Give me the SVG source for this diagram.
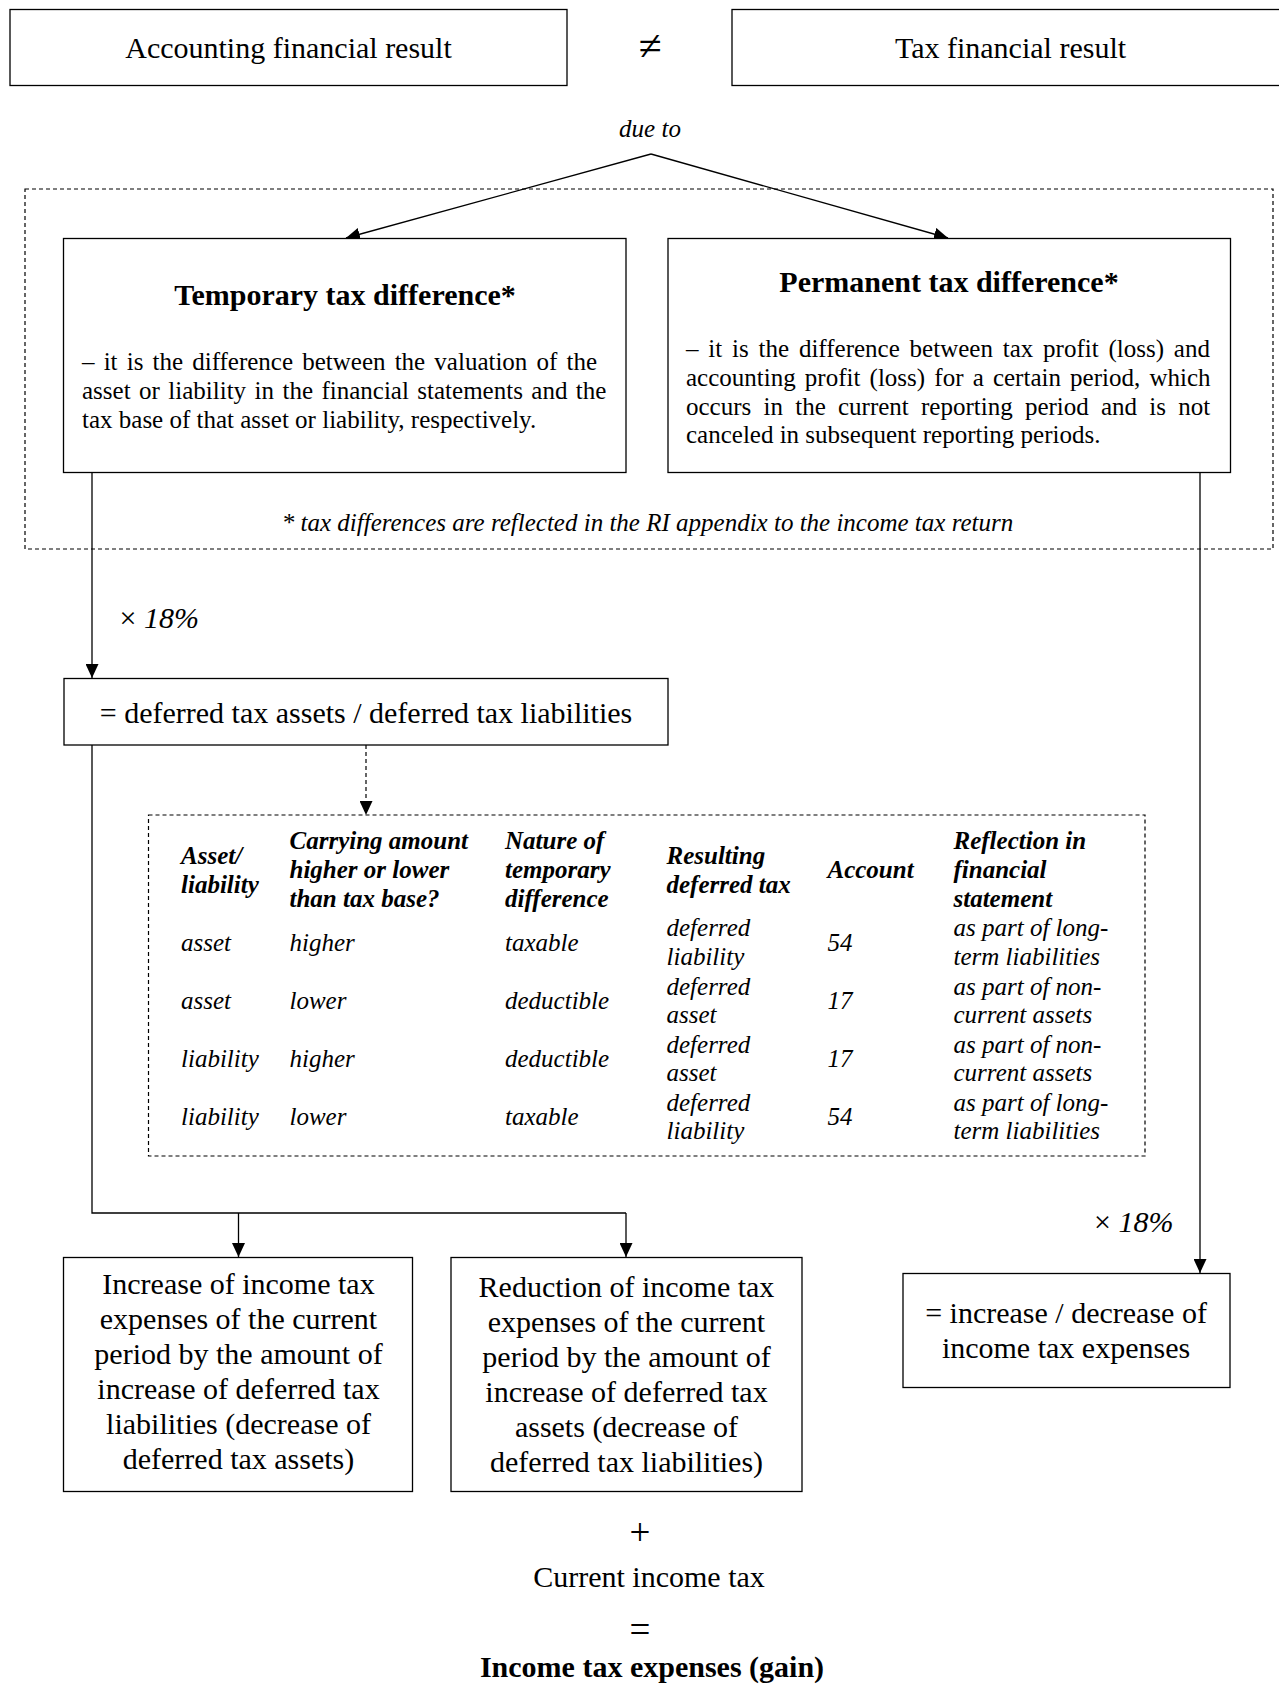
<svg xmlns="http://www.w3.org/2000/svg" width="1279" height="1684" viewBox="0 0 1279 1684">
<defs>
<marker id="ah" markerUnits="userSpaceOnUse" markerWidth="14" markerHeight="13" refX="14" refY="6.5" orient="auto">
<path d="M0,0 L14,6.5 L0,13 z" fill="#000"/>
</marker>
<style>
.box{fill:#fff;stroke:#000;stroke-width:1.3}
.dbox{fill:none;stroke:#000;stroke-width:1.2;stroke-dasharray:4,3}
.ln{fill:none;stroke:#000;stroke-width:1.3}
.dl{fill:none;stroke:#000;stroke-width:1.2;stroke-dasharray:4,3}
text{font-family:"Liberation Serif","Times New Roman",serif;fill:#000}
.t30{font-size:30px}
.b30{font-size:30px;font-weight:bold}
.t25{font-size:25px}
.i25{font-size:25px;font-style:italic}
.h25{font-size:25px;font-style:italic;font-weight:bold}
.sym{font-size:37px}
.neq{font-size:42px}
.c{text-anchor:middle}
</style>
</defs>
<rect width="1279" height="1684" fill="#fff"/>

<g id="outer-dashed">
<rect class="dbox" x="25" y="189" width="1248" height="360"/>
</g>

<g id="connectors">
<line class="ln" x1="651" y1="154" x2="346" y2="238" marker-end="url(#ah)"/>
<line class="ln" x1="651" y1="154" x2="948" y2="238" marker-end="url(#ah)"/>
<line class="ln" x1="92" y1="472" x2="92" y2="678" marker-end="url(#ah)"/>
<line class="dl" x1="366" y1="745" x2="366" y2="815" marker-end="url(#ah)"/>
<polyline class="ln" points="92,745 92,1213 626,1213"/>
<line class="ln" x1="238.5" y1="1213" x2="238.5" y2="1257" marker-end="url(#ah)"/>
<line class="ln" x1="626" y1="1213" x2="626" y2="1257" marker-end="url(#ah)"/>
<line class="ln" x1="1200" y1="472" x2="1200" y2="1273" marker-end="url(#ah)"/>
</g>

<g id="accounting">
<rect class="box" x="10" y="9.5" width="557" height="76"/>
<text class="t30 c" x="288.5" y="58">Accounting financial result</text>
</g>
<g id="neq">
<text class="neq c" x="650" y="60">≠</text>
</g>
<g id="tax">
<rect class="box" x="732" y="9.5" width="557" height="76"/>
<text class="t30 c" x="1010.5" y="58">Tax financial result</text>
</g>
<g id="dueto">
<text class="i25 c" x="650" y="137">due to</text>
</g>

<g id="temporary">
<rect class="box" x="63.5" y="238.5" width="562.5" height="234"/>
<text class="b30 c" x="345" y="305">Temporary tax difference*</text>
<text class="t25" x="82" y="370" style="word-spacing:2.9px">– it is the difference between the valuation of the</text>
<text class="t25" x="82" y="399" style="word-spacing:2.2px">asset or liability in the financial statements and the</text>
<text class="t25" x="82" y="428">tax base of that asset or liability, respectively.</text>
</g>

<g id="permanent">
<rect class="box" x="668" y="238.5" width="562.5" height="234"/>
<text class="b30 c" x="949" y="292">Permanent tax difference*</text>
<text class="t25" x="686" y="356.5" style="word-spacing:3.58px">– it is the difference between tax profit (loss) and</text>
<text class="t25" x="686" y="385.5" style="word-spacing:2.93px">accounting profit (loss) for a certain period, which</text>
<text class="t25" x="686" y="414.5" style="word-spacing:6px">occurs in the current reporting period and is not</text>
<text class="t25" x="686" y="443">canceled in subsequent reporting periods.</text>
</g>

<g id="footnote">
<text class="i25 c" x="647.5" y="531">* tax differences are reflected in the RI appendix to the income tax return</text>
</g>

<g id="rate-left">
<text class="t30" x="119.5" y="628">× <tspan font-style="italic">18%</tspan></text>
</g>

<g id="deferred">
<rect class="box" x="64" y="678.5" width="604" height="66.5"/>
<text class="t30 c" x="366" y="723">= deferred tax assets / deferred tax liabilities</text>
</g>

<g id="table">
<rect class="dbox" x="148.5" y="815" width="996.5" height="341"/>
<text class="h25" x="181" y="863.5">Asset/</text>
<text class="h25" x="181" y="892.5">liability</text>
<text class="h25" x="289.5" y="849">Carrying amount</text>
<text class="h25" x="289.5" y="878">higher or lower</text>
<text class="h25" x="289.5" y="907">than tax base?</text>
<text class="h25" x="505" y="849">Nature of</text>
<text class="h25" x="505" y="878">temporary</text>
<text class="h25" x="505" y="907">difference</text>
<text class="h25" x="666.5" y="863.5">Resulting</text>
<text class="h25" x="666.5" y="892.5">deferred tax</text>
<text class="h25" x="827.5" y="878">Account</text>
<text class="h25" x="953.5" y="849">Reflection in</text>
<text class="h25" x="953.5" y="878">financial</text>
<text class="h25" x="953.5" y="907">statement</text>

<text class="i25" x="181" y="951">asset</text>
<text class="i25" x="289.5" y="951">higher</text>
<text class="i25" x="505" y="951">taxable</text>
<text class="i25" x="666.5" y="936">deferred</text>
<text class="i25" x="666.5" y="964.5">liability</text>
<text class="i25" x="827.5" y="951">54</text>
<text class="i25" x="953.5" y="936">as part of long-</text>
<text class="i25" x="953.5" y="964.5">term liabilities</text>

<text class="i25" x="181" y="1009">asset</text>
<text class="i25" x="289.5" y="1009">lower</text>
<text class="i25" x="505" y="1009">deductible</text>
<text class="i25" x="666.5" y="994.5">deferred</text>
<text class="i25" x="666.5" y="1023">asset</text>
<text class="i25" x="827.5" y="1009">17</text>
<text class="i25" x="953.5" y="994.5">as part of non-</text>
<text class="i25" x="953.5" y="1023">current assets</text>

<text class="i25" x="181" y="1067">liability</text>
<text class="i25" x="289.5" y="1067">higher</text>
<text class="i25" x="505" y="1067">deductible</text>
<text class="i25" x="666.5" y="1052.5">deferred</text>
<text class="i25" x="666.5" y="1081">asset</text>
<text class="i25" x="827.5" y="1067">17</text>
<text class="i25" x="953.5" y="1052.5">as part of non-</text>
<text class="i25" x="953.5" y="1081">current assets</text>

<text class="i25" x="181" y="1125">liability</text>
<text class="i25" x="289.5" y="1125">lower</text>
<text class="i25" x="505" y="1125">taxable</text>
<text class="i25" x="666.5" y="1110.5">deferred</text>
<text class="i25" x="666.5" y="1139">liability</text>
<text class="i25" x="827.5" y="1125">54</text>
<text class="i25" x="953.5" y="1110.5">as part of long-</text>
<text class="i25" x="953.5" y="1139">term liabilities</text>
</g>

<g id="increase">
<rect class="box" x="63.5" y="1257.5" width="349" height="234"/>
<text class="t30 c" x="238.5" y="1294">Increase of income tax</text>
<text class="t30 c" x="238.5" y="1329">expenses of the current</text>
<text class="t30 c" x="238.5" y="1364">period by the amount of</text>
<text class="t30 c" x="238.5" y="1399">increase of deferred tax</text>
<text class="t30 c" x="238.5" y="1434">liabilities (decrease of</text>
<text class="t30 c" x="238.5" y="1469">deferred tax assets)</text>
</g>

<g id="reduction">
<rect class="box" x="451" y="1257.5" width="351" height="234"/>
<text class="t30 c" x="626.5" y="1297">Reduction of income tax</text>
<text class="t30 c" x="626.5" y="1332">expenses of the current</text>
<text class="t30 c" x="626.5" y="1367">period by the amount of</text>
<text class="t30 c" x="626.5" y="1402">increase of deferred tax</text>
<text class="t30 c" x="626.5" y="1437">assets (decrease of</text>
<text class="t30 c" x="626.5" y="1472">deferred tax liabilities)</text>
</g>

<g id="rate-right">
<text class="t30" x="1094" y="1232">× <tspan font-style="italic">18%</tspan></text>
</g>

<g id="incdec">
<rect class="box" x="903" y="1273.5" width="327" height="114"/>
<text class="t30 c" x="1066" y="1323">= increase / decrease of</text>
<text class="t30 c" x="1066" y="1358">income tax expenses</text>
</g>

<g id="total">
<text class="sym c" x="640" y="1545">+</text>
<text class="t30 c" x="649" y="1587">Current income tax</text>
<text class="sym c" x="640" y="1642">=</text>
<text class="b30 c" x="652" y="1677">Income tax expenses (gain)</text>
</g>
</svg>
